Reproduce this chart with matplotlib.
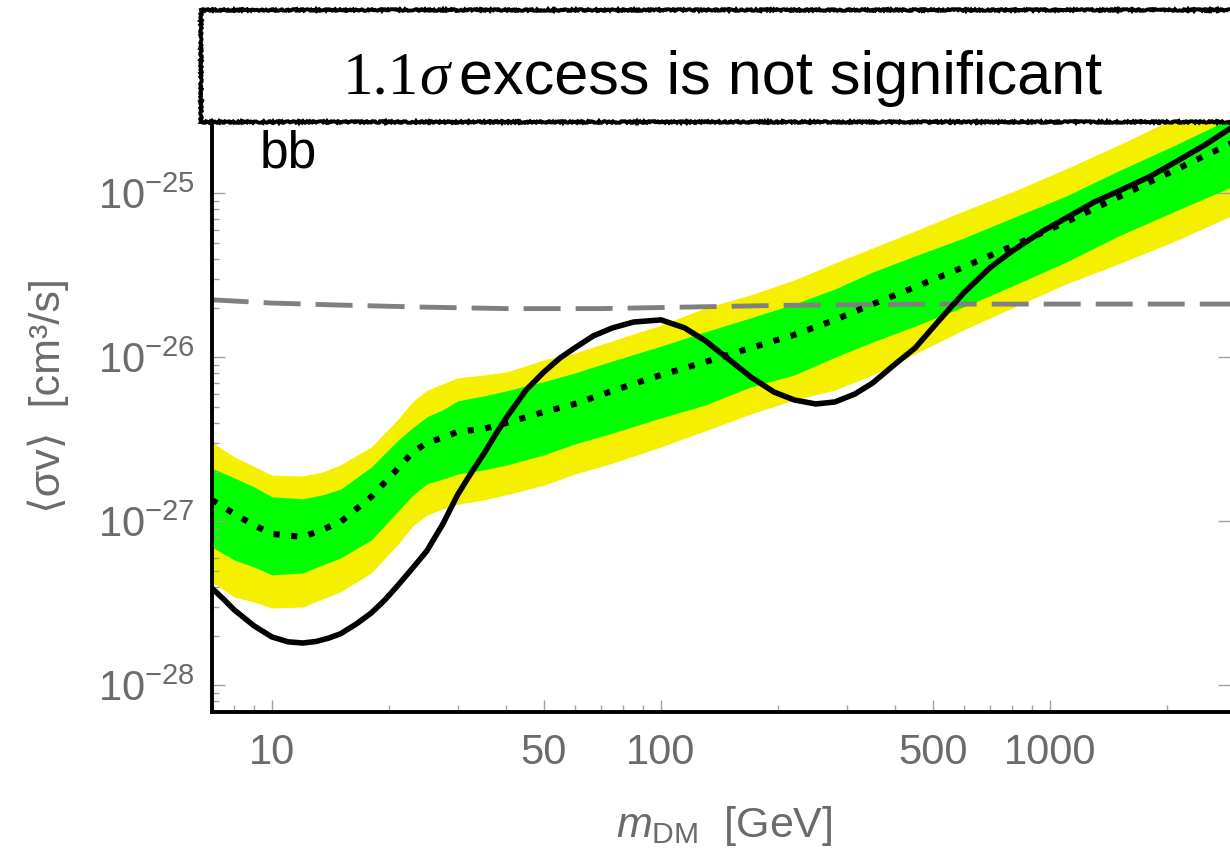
import math
import matplotlib
matplotlib.use('Agg')
import matplotlib.pyplot as plt
import matplotlib.patches as patches
from matplotlib.ticker import FixedLocator, FuncFormatter, NullFormatter

plt.rcParams['font.family'] = ['Liberation Sans', 'DejaVu Sans']
plt.rcParams['mathtext.fontset'] = 'custom'
plt.rcParams['mathtext.rm'] = 'Liberation Sans'
plt.rcParams['mathtext.it'] = 'Liberation Sans:italic'

# observed limit: dark matter mass [GeV] and <sigma v> [cm^3/s]
mass_obs = [7, 7.5, 8, 9, 10, 11, 12, 13, 14, 15, 16.5, 18, 19.5, 21, 23, 25, 27.5,
            30, 32.5, 35, 37.5, 40, 45, 50, 55, 60, 67, 75, 85, 100, 115, 130, 150,
            170, 195, 220, 250, 280, 315, 350, 400, 450, 520, 600, 700, 800, 950,
            1100, 1300, 1500, 1800, 2100, 2500, 3000]
observed = [3.92e-28, 3.36e-28, 2.88e-28, 2.30e-28, 1.97e-28, 1.84e-28, 1.81e-28,
            1.85e-28, 1.94e-28, 2.06e-28, 2.37e-28, 2.76e-28, 3.31e-28, 4.03e-28,
            5.19e-28, 6.59e-28, 9.63e-28, 1.45e-27, 1.97e-27, 2.57e-27, 3.36e-27,
            4.27e-27, 6.32e-27, 8.13e-27, 9.90e-27, 1.14e-26, 1.35e-26, 1.51e-26,
            1.64e-26, 1.69e-26, 1.51e-26, 1.26e-26, 9.63e-27, 7.59e-27, 6.14e-27,
            5.49e-27, 5.19e-27, 5.34e-27, 5.97e-27, 6.97e-27, 9.10e-27, 1.14e-26,
            1.69e-26, 2.47e-26, 3.51e-26, 4.45e-26, 5.81e-26, 7.07e-26, 8.85e-26,
            1.03e-25, 1.26e-25, 1.55e-25, 1.97e-25, 2.61e-25]

# expected limit and bands
mass_exp = [7, 8, 9, 10, 12, 13.5, 15, 18, 21, 23, 25, 27.5, 30, 35, 40, 50, 60, 75,
            100, 130, 170, 220, 280, 350, 450, 600, 800, 1100, 1500, 2100, 3000]
expected = [1.35e-27, 1.11e-27, 9.45e-28, 8.37e-28, 8.02e-28, 8.90e-28, 9.90e-28,
            1.41e-27, 2.08e-27, 2.64e-27, 3.00e-27, 3.24e-27, 3.51e-27, 3.66e-27,
            3.97e-27, 4.64e-27, 5.19e-27, 6.24e-27, 7.80e-27, 9.36e-27, 1.14e-26,
            1.37e-26, 1.69e-26, 2.11e-26, 2.68e-26, 3.55e-26, 4.77e-26, 6.68e-26,
            9.49e-26, 1.39e-25, 2.08e-25]
green_hi = [2.11e-27, 1.84e-27, 1.62e-27, 1.41e-27, 1.37e-27, 1.45e-27, 1.57e-27,
            2.14e-27, 3.09e-27, 3.72e-27, 4.33e-27, 4.79e-27, 5.42e-27, 5.81e-27,
            6.24e-27, 7.10e-27, 8.02e-27, 9.49e-27, 1.17e-26, 1.43e-26, 1.74e-26,
            2.11e-26, 2.61e-26, 3.31e-26, 4.15e-26, 5.34e-26, 7.07e-26, 9.63e-26,
            1.37e-25, 1.97e-25, 2.96e-25]
green_lo = [6.97e-28, 5.81e-28, 5.26e-28, 4.71e-28, 4.84e-28, 5.42e-28, 5.97e-28,
            7.69e-28, 1.14e-27, 1.44e-27, 1.69e-27, 1.81e-27, 1.94e-27, 2.06e-27,
            2.20e-27, 2.54e-27, 2.96e-27, 3.45e-27, 4.27e-27, 5.12e-27, 6.59e-27,
            7.80e-27, 1.00e-26, 1.24e-26, 1.55e-26, 2.03e-26, 2.72e-26, 3.81e-26,
            5.49e-26, 7.80e-26, 1.12e-25]
yellow_hi = [3.04e-27, 2.47e-27, 2.16e-27, 1.91e-27, 1.89e-27, 2.00e-27, 2.21e-27,
             2.84e-27, 4.15e-27, 5.37e-27, 6.29e-27, 6.89e-27, 7.48e-27, 7.80e-27,
             8.13e-27, 9.63e-27, 1.06e-26, 1.26e-26, 1.57e-26, 2.00e-26, 2.40e-26,
             2.96e-26, 3.76e-26, 4.64e-26, 5.89e-26, 7.80e-26, 1.02e-25, 1.41e-25,
             1.97e-25, 2.88e-25, 4.27e-25]
yellow_lo = [4.27e-28, 3.45e-28, 3.22e-28, 2.96e-28, 3.00e-28, 3.36e-28, 3.71e-28,
             4.84e-28, 7.16e-28, 9.36e-28, 1.09e-27, 1.19e-27, 1.27e-27, 1.35e-27,
             1.45e-27, 1.66e-27, 1.94e-27, 2.26e-27, 2.84e-27, 3.56e-27, 4.51e-27,
             5.49e-27, 6.32e-27, 7.80e-27, 1.05e-26, 1.47e-26, 2.00e-26, 2.80e-26,
             3.71e-26, 5.12e-26, 7.48e-26]

# thermal relic cross section
mass_relic = [7, 10, 15, 25, 40, 70, 100, 200, 500, 3000]
relic = [2.24e-26, 2.14e-26, 2.08e-26, 2.02e-26, 1.98e-26, 1.98e-26, 2.01e-26,
         2.07e-26, 2.11e-26, 2.11e-26]

x_major = [10, 50, 100, 500, 1000]
x_minor = [8, 9, 20, 30, 40, 60, 70, 80, 90, 200, 300, 400, 600, 700, 800, 900, 2000]
y_major = [1e-28, 1e-27, 1e-26, 1e-25]
y_minor = [k * 10.0 ** e for e in range(-29, -25) for k in range(2, 10)]

gray = '#6b6b6b'
W, H = 1230, 851
ylo, yhi = 6.9e-29, 3.0e-25

fig = plt.figure(figsize=(12.3, 8.51), dpi=100)
ax = fig.add_axes([211.7 / W, (H - 711.7) / H, 1018.3 / W, (711.7 - 115) / H])
ax.set_xscale('log')
ax.set_yscale('log')

ax.fill_between(mass_exp, yellow_lo, yellow_hi, color='#f4f000', lw=0)
ax.fill_between(mass_exp, green_lo, green_hi, color='#00ff00', lw=0)
ax.plot(mass_relic, relic, color='#808080', lw=3.5, linestyle=(0, (7.6, 3.1)))
ax.plot(mass_exp, expected, color='black', lw=4.4, linestyle=(0, (1, 1.9)),
        dash_capstyle='butt')
ax.plot(mass_obs, observed, color='black', lw=4, solid_capstyle='round')

ax.set_xlim(7, 2900)
ax.set_ylim(ylo, yhi)

ax.xaxis.set_major_locator(FixedLocator(x_major))
ax.xaxis.set_minor_locator(FixedLocator(x_minor))
ax.xaxis.set_major_formatter(FuncFormatter(lambda v, p: '%g' % v))
ax.xaxis.set_minor_formatter(NullFormatter())
ax.yaxis.set_major_locator(FixedLocator(y_major))
ax.yaxis.set_minor_locator(FixedLocator([v for v in y_minor if ylo < v < yhi]))
ax.yaxis.set_major_formatter(FuncFormatter(
    lambda v, p: r'$\mathdefault{10^{%d}}$' % round(math.log10(v))))
ax.yaxis.set_minor_formatter(NullFormatter())

ax.tick_params(which='both', direction='in', color='#a0a0a0', width=1,
               labelcolor=gray, labelsize=30, top=False, right=True)
ax.tick_params(which='major', length=9)
ax.tick_params(which='minor', length=5)
ax.tick_params(axis='y', which='minor', right=False)
ax.tick_params(axis='x', pad=15)
ax.tick_params(axis='y', pad=12)

for s in ['top', 'right']:
    ax.spines[s].set_visible(False)
for s in ['left', 'bottom']:
    ax.spines[s].set_linewidth(2.8)
    ax.spines[s].set_color('black')

ax.set_xlabel(r'$m_{\rm DM}$  [GeV]', fontsize=31, color=gray, va='baseline')
ax.xaxis.set_label_coords((724 - 211.7) / 1018.3, -(837 - 711.7) / 596.7)
ax.set_ylabel('⟨σv⟩  [cm³/s]', fontsize=31, color=gray, va='center')
ax.yaxis.set_label_coords((48 - 211.7) / 1018.3, (711.7 - 396) / 596.7)

fig.text(260 / W, (H - 168) / H, 'bb', fontsize=37, color='black', va='baseline')

# title box on top of the plot
box = patches.Rectangle((201 / W, (H - 122) / H), 1.0, 112 / H, transform=fig.transFigure,
                        facecolor='white', edgecolor='black', lw=2.8, zorder=5)
box.set_sketch_params(scale=0.8, length=3, randomness=6)
fig.patches.append(box)

base = (H - 94) / H
t1 = fig.text(343 / W, base, '1.1', fontsize=44, family='Liberation Serif',
              va='baseline', zorder=6)
fig.canvas.draw()
x1 = t1.get_window_extent().x1
t2 = fig.text(x1 / W, base, 'σ', fontsize=44, family='Liberation Serif',
              style='italic', va='baseline', zorder=6)
fig.canvas.draw()
x2 = t2.get_window_extent().x1
fig.text((x2 + 10) / W, base, 'excess is not significant', fontsize=44,
         va='baseline', zorder=6)

fig.savefig('out.png', dpi=100)
